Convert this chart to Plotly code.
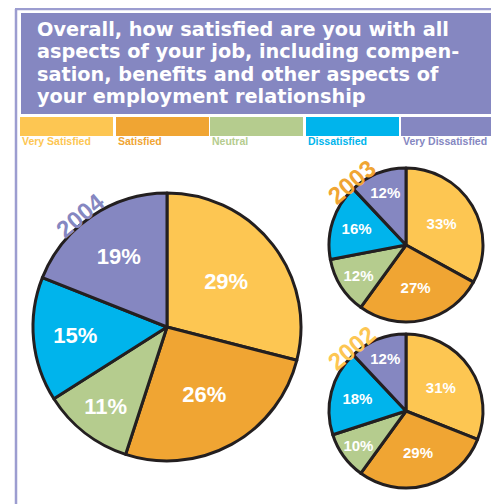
import plotly.graph_objects as go

# the page puts the plot 8px in from the top-left corner
OFF = 8
W, H = 499 - OFF, 504 - OFF

categories = ["Very Satisfied", "Satisfied", "Neutral", "Dissatisfied", "Very Dissatisfied"]
colors = ["#FDC652", "#F0A533", "#B5CC8E", "#00B4EC", "#8587C1"]

years = ["2004", "2003", "2002"]
values_2004 = [29, 26, 11, 15, 19]
values_2003 = [33, 27, 12, 16, 12]
values_2002 = [31, 29, 10, 18, 12]

title_lines = [
    "Overall, how satisfied are you with all",
    "aspects of your job, including compen-",
    "sation, benefits and other aspects of",
    "your employment relationship",
]


def px_x(x):
    return min(max((x - OFF) / W, 0), 1)


def px_y(y):
    return min(max(1 - (y - OFF) / H, 0), 1)


fig = go.Figure()

# pies: (values, centre x, centre y, radius, label font size)
pies = [
    (values_2004, 167, 327, 134, 22),
    (values_2003, 406, 245, 77, 15),
    (values_2002, 406, 411, 77, 15),
]
for vals, cx, cy, r, fs in pies:
    fig.add_trace(go.Pie(
        labels=categories,
        values=vals,
        text=[f"{v}%" for v in vals],
        textinfo="text",
        textposition="inside",
        insidetextorientation="horizontal",
        textfont=dict(family="Liberation Sans", size=fs, color="white", weight="bold"),
        marker=dict(colors=colors, line=dict(color="#231F20", width=3)),
        sort=False,
        direction="clockwise",
        rotation=0,
        showlegend=False,
        hoverinfo="label+percent",
        domain=dict(x=[px_x(cx - r), px_x(cx + r)], y=[px_y(cy + r), px_y(cy - r)]),
    ))

shapes = []
# outer frame
frame_col = "#9C9DD0"
shapes.append(dict(type="line", xref="paper", yref="paper",
                   x0=px_x(16), x1=px_x(16), y0=px_y(9), y1=px_y(510),
                   line=dict(color=frame_col, width=2.5)))
shapes.append(dict(type="line", xref="paper", yref="paper",
                   x0=px_x(496), x1=px_x(496), y0=px_y(9), y1=px_y(510),
                   line=dict(color=frame_col, width=2.5)))
shapes.append(dict(type="line", xref="paper", yref="paper",
                   x0=px_x(15), x1=px_x(497), y0=px_y(9), y1=px_y(9),
                   line=dict(color=frame_col, width=2.5)))
# header box
shapes.append(dict(type="rect", xref="paper", yref="paper",
                   x0=px_x(21), x1=px_x(494), y0=px_y(114), y1=px_y(13),
                   fillcolor="#8587C1", line=dict(width=0), layer="below"))

# legend bars
bar_x = [(20, 113), (116, 209), (210, 303), (306, 399), (401, 494)]
annotations = []
for (x0, x1), col, cat in zip(bar_x, colors, categories):
    shapes.append(dict(type="rect", xref="paper", yref="paper",
                       x0=px_x(x0), x1=px_x(x1), y0=px_y(136), y1=px_y(117),
                       fillcolor=col, line=dict(width=0), layer="below"))
    annotations.append(dict(text=f"<b>{cat}</b>", xref="paper", yref="paper",
                            x=px_x(x0), y=px_y(141), xanchor="left", yanchor="middle",
                            showarrow=False,
                            font=dict(family="Liberation Sans Narrow, Liberation Sans", size=10.5, color=col)))

# header text
for i, line in enumerate(title_lines):
    annotations.append(dict(text=f"<b>{line}</b>", xref="paper", yref="paper",
                            x=px_x(35), y=px_y(29 + i * 22.5), xanchor="left", yanchor="middle",
                            showarrow=False,
                            font=dict(family="DejaVu Sans", size=19.3, color="white")))

# year labels along the pie edges
year_pos = [(80, 215, "#8587C1"), (351, 182, "#F0A533"), (351, 348, "#FDC652")]
for yr, (x, y, col) in zip(years, year_pos):
    annotations.append(dict(text=f"<b>{yr}</b>", xref="paper", yref="paper",
                            x=px_x(x), y=px_y(y), xanchor="center", yanchor="middle",
                            textangle=-40, showarrow=False,
                            font=dict(family="Liberation Sans", size=24, color=col)))

fig.update_layout(width=W, height=H, margin=dict(l=0, r=0, t=0, b=0),
                  paper_bgcolor="white", plot_bgcolor="white",
                  shapes=shapes, annotations=annotations)

fig.write_html("out.html")
